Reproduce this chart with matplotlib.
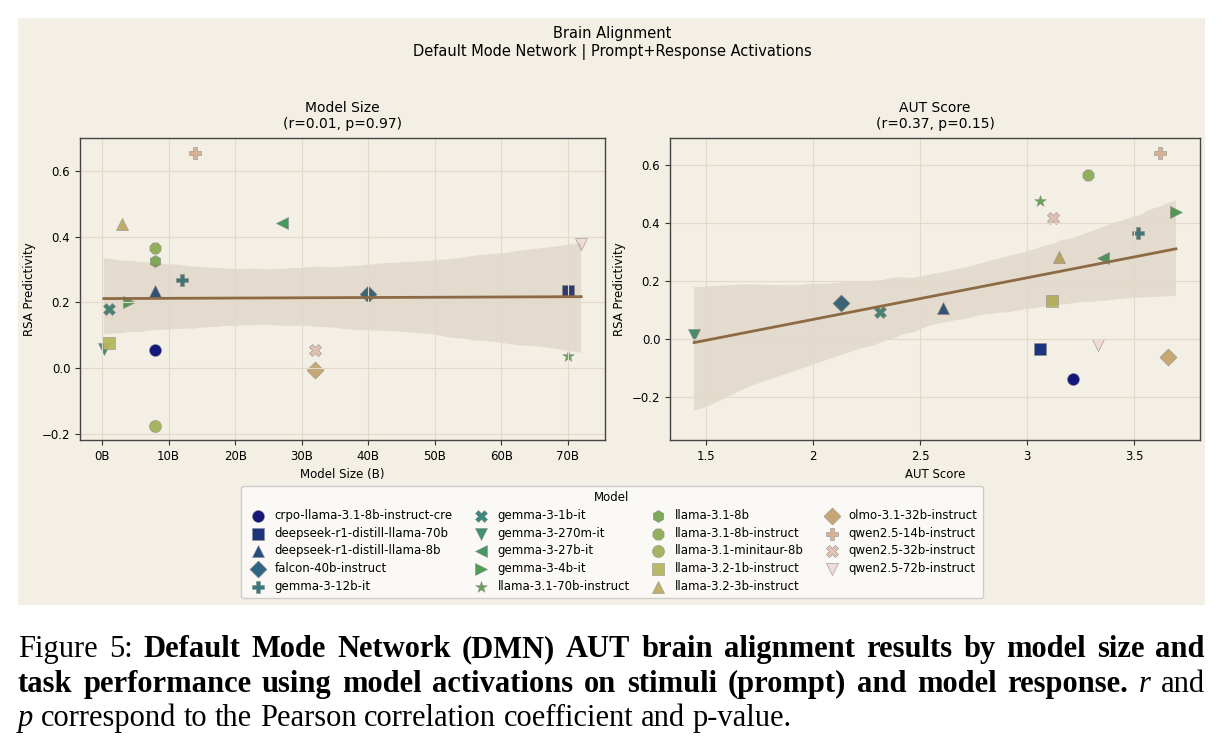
import numpy as np
import matplotlib
matplotlib.use("Agg")
import matplotlib.pyplot as plt
import seaborn as sns
from matplotlib.patches import Rectangle
from matplotlib.ticker import FuncFormatter

models = [
    "crpo-llama-3.1-8b-instruct-cre", "deepseek-r1-distill-llama-70b",
    "deepseek-r1-distill-llama-8b", "falcon-40b-instruct", "gemma-3-12b-it",
    "gemma-3-1b-it", "gemma-3-270m-it", "gemma-3-27b-it", "gemma-3-4b-it",
    "llama-3.1-70b-instruct", "llama-3.1-8b", "llama-3.1-8b-instruct",
    "llama-3.1-minitaur-8b", "llama-3.2-1b-instruct", "llama-3.2-3b-instruct",
    "olmo-3.1-32b-instruct", "qwen2.5-14b-instruct", "qwen2.5-32b-instruct",
    "qwen2.5-72b-instruct",
]
markers = ['o', 's', '^', 'D', 'P', 'X', 'v', '<', '>', '*', 'h', '8',
           'o', 's', '^', 'D', 'P', 'X', 'v']

# left panel: model size (billions) vs RSA predictivity
size_b = [8, 70, 8, 40, 12, 1, 0.27, 27, 4, 70, 8, 8, 8, 1, 3, 32, 14, 32, 72]
rsa_size = [0.056, 0.236, 0.235, 0.227, 0.268, 0.179, 0.060, 0.443, 0.200,
            0.038, 0.326, 0.367, -0.175, 0.078, 0.438, -0.005, 0.655, 0.056,
            0.377]

# right panel: AUT score vs RSA predictivity (two models have no score)
aut = [3.213, 3.060, 2.605, 2.129, 3.518, 2.312, 1.443, 3.353, 3.695, 3.060,
       np.nan, 3.284, np.nan, 3.115, 3.149, 3.660, 3.621, 3.122, 3.332]
rsa_aut = [-0.138, -0.033, 0.107, 0.123, 0.367, 0.093, 0.015, 0.281, 0.438,
           0.475, np.nan, 0.567, np.nan, 0.131, 0.283, -0.061, 0.641, 0.418,
           -0.019]

titles = ["Model Size\n(r=0.01, p=0.97)", "AUT Score\n(r=0.37, p=0.15)"]

W, H = 1222, 748
panel = '#f3efe5'
line_c = '#8c6a44'
colors = plt.get_cmap('gist_earth')(np.linspace(0, 1, len(models) + 2)[1:-1])
msize = 75

fig = plt.figure(figsize=(W / 100, H / 100), dpi=100, facecolor='white')
fig.patches.append(Rectangle((18 / W, 1 - 605 / H), 1187 / W, 587 / H,
                             transform=fig.transFigure, facecolor=panel,
                             edgecolor='none', zorder=-5))


def panel_ax(rect, xs, ys, title, xlabel, ylim):
    ax = fig.add_axes(rect)
    ax.set_facecolor(panel)
    ax.grid(True, color='#e2d9c9', lw=0.8)
    for i, m in enumerate(models):
        if np.isnan(xs[i]) or np.isnan(ys[i]):
            ax.scatter([], [], s=msize, marker=markers[i], color=colors[i],
                       edgecolor='0.55', linewidth=0.4, label=m)
            continue
        ax.scatter([xs[i]], [ys[i]], s=msize, marker=markers[i],
                   color=colors[i], edgecolor='0.55', linewidth=0.4,
                   alpha=0.95, label=m)
    x = np.asarray(xs, float)
    y = np.asarray(ys, float)
    ok = ~np.isnan(x) & ~np.isnan(y)
    sns.regplot(x=x[ok], y=y[ok], ax=ax, scatter=False, color=line_c,
                line_kws={'lw': 2}, seed=3)
    ax.set_ylim(*ylim)
    ax.set_title(title, fontsize=10, pad=7)
    ax.set_xlabel(xlabel, fontsize=8.5)
    ax.set_ylabel("RSA Predictivity", fontsize=8.5)
    ax.tick_params(labelsize=8.5, color='#333333')
    for sp in ax.spines.values():
        sp.set_color('#444444')
        sp.set_linewidth(1.0)
    return ax


ax1 = panel_ax([80 / W, 1 - 440 / H, 525 / W, 302 / H], size_b, rsa_size,
               titles[0], "Model Size (B)", (-0.218, 0.70))
ax1.set_xticks(np.arange(0, 71, 10))
ax1.xaxis.set_major_formatter(FuncFormatter(lambda v, p: f"{v:.0f}B"))

ax2 = panel_ax([670 / W, 1 - 440 / H, 530 / W, 302 / H], aut, rsa_aut,
               titles[1], "AUT Score", (-0.348, 0.693))
ax2.set_xticks([1.5, 2, 2.5, 3, 3.5])
ax2.xaxis.set_major_formatter(FuncFormatter(lambda v, p: f"{v:g}"))

fig.text(612 / W, 1 - 43 / H,
         "Brain Alignment\nDefault Mode Network | Prompt+Response Activations",
         ha='center', va='center', fontsize=10.5, linespacing=1.25)

handles, labels = ax1.get_legend_handles_labels()
handles, labels = handles[:len(models)], labels[:len(models)]
leg = fig.legend(handles, labels, ncol=4, title="Model", loc='center',
                 bbox_to_anchor=(612 / W, 1 - 542 / H), fontsize=8.5,
                 title_fontsize=8.5, frameon=True, facecolor='#fbf9f5',
                 edgecolor='#cccccc', framealpha=1, labelspacing=0.4,
                 handletextpad=0.4, columnspacing=1.4, borderpad=0.45)

# caption below the figure panel, justified word by word
cap_size = 22
cap_font = 'Liberation Serif'
caption = [
    ([("Figure 5:", 'normal', 'normal'),
      ("Default Mode Network (DMN) AUT brain alignment results by model size and",
       'bold', 'normal')], 657, True),
    ([("task performance using model activations on stimuli (prompt) and model response.",
       'bold', 'normal'), ("r", 'normal', 'italic'), ("and", 'normal', 'normal')],
     692, True),
    ([("p", 'normal', 'italic'),
      ("correspond to the Pearson correlation coefficient and p-value.",
       'normal', 'normal')], 726, False),
]
renderer = fig.canvas.get_renderer()
x0, x1 = 18, 1205
for parts, ybase, justify in caption:
    words = []
    for txt, w, st in parts:
        for word in txt.split():
            t = fig.text(0, 1 - ybase / H, word, fontsize=cap_size,
                         family=cap_font, weight=w, style=st, va='baseline')
            words.append((t, t.get_window_extent(renderer).width))
    total = sum(wd for _, wd in words)
    if justify:
        gap = (x1 - x0 - total) / (len(words) - 1)
    else:
        gap = 0.25 * cap_size * 100 / 72
    x = x0
    for t, wd in words:
        t.set_x(x / W)
        x += wd + gap

fig.savefig("out.png", dpi=100, facecolor='white')
